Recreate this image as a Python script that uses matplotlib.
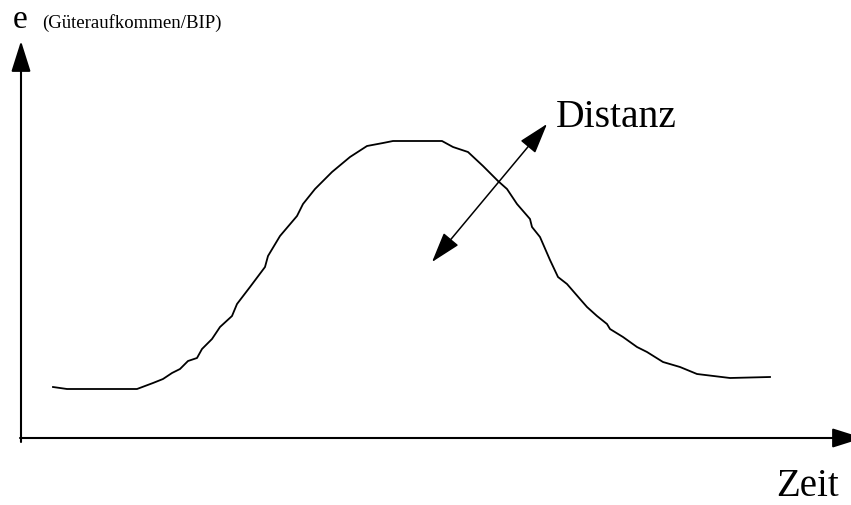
import matplotlib

matplotlib.use("Agg")
import matplotlib.pyplot as plt

# Curve (time, Güteraufkommen/BIP), origin at axis crossing
TIME = [32, 46, 116, 132, 142, 151, 159, 167, 176, 181, 191, 199, 211, 216, 229, 244, 247,
        259, 276, 282, 294, 311, 329, 346, 362, 372, 421, 432, 447, 462, 477, 486, 496, 509,
        511, 519, 529, 537, 546, 559, 566, 576, 586, 589, 602, 616, 626, 642, 659, 676, 709, 749]
LEVEL = [51, 49, 49, 55, 59, 65, 69, 77, 80, 89, 99, 111, 122, 134, 151, 171, 182,
         202, 222, 234, 249, 266, 281, 292, 295, 297, 297, 291, 286, 272, 257, 249, 234, 219,
         211, 201, 178, 161, 154, 139, 131, 122, 114, 109, 101, 91, 86, 76, 71, 64, 60, 61]

# "Distanz" double arrow end points
DIST_START = (411, 176)
DIST_END = (526, 314)

Y_LABEL = "e"
Y_UNIT = "(Güteraufkommen/BIP)"
X_LABEL = "Zeit"
DIST_LABEL = "Distanz"

plt.rcParams["font.family"] = ["Liberation Serif", "DejaVu Serif"]

fig = plt.figure(figsize=(8.51, 5.06), dpi=100)
ax = fig.add_axes([0, 0, 1, 1])
ax.set_xlim(-21, 830)
ax.set_ylim(-67, 439)
ax.axis("off")

head = "-|>,head_length=19,head_width=6"
arrow_kw = dict(color="black", shrinkA=0, shrinkB=0, mutation_scale=1)
# axes with arrow heads
ax.annotate("", xy=(0, 397), xytext=(0, -4),
            arrowprops=dict(arrowstyle=head, lw=1.5, **arrow_kw))
ax.annotate("", xy=(842, 0), xytext=(-1, 0), annotation_clip=False,
            arrowprops=dict(arrowstyle=head, lw=1.5, **arrow_kw))

ax.plot(TIME, LEVEL, color="black", linewidth=1.3, solid_joinstyle="round")

ax.annotate("", xy=DIST_END, xytext=DIST_START,
            arrowprops=dict(arrowstyle="<|-|>,head_length=19,head_width=6", lw=1.1, **arrow_kw))

ax.text(-8, 411, Y_LABEL, fontsize=24, ha="left", va="baseline")
ax.text(21, 411, Y_UNIT, fontsize=13.5, ha="left", va="baseline")
ax.text(535, 312, DIST_LABEL, fontsize=28.5, ha="left", va="baseline")
ax.text(755, -57, X_LABEL, fontsize=28, ha="left", va="baseline")

fig.savefig("out.png", dpi=100)
